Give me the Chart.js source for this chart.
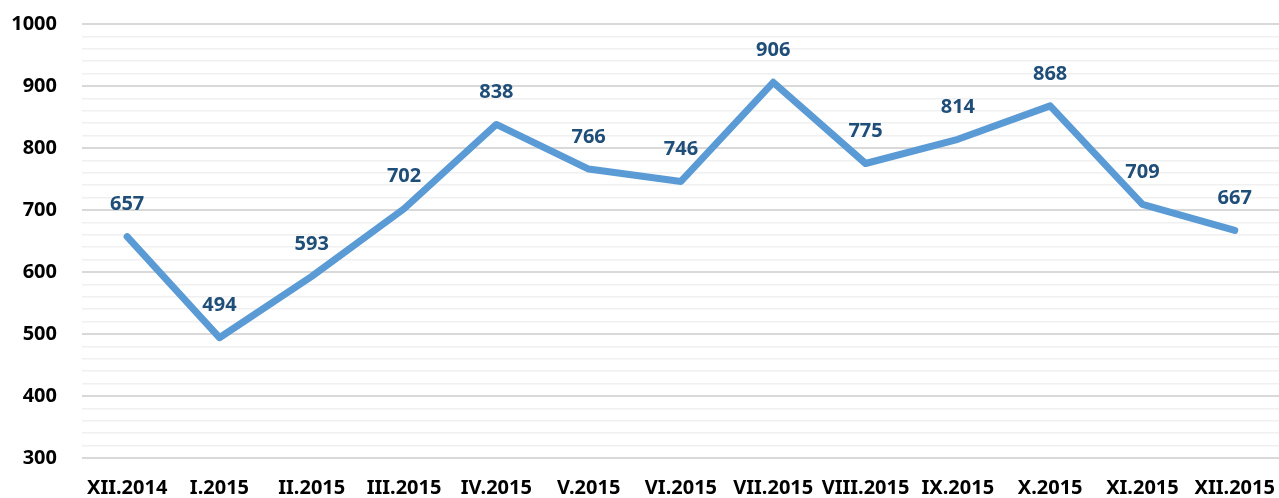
<!DOCTYPE html>
<html><head><meta charset="utf-8">
<script src="https://cdn.jsdelivr.net/npm/chart.js@4/dist/chart.umd.min.js"></script>
<style>
html,body{margin:0;padding:0;background:#fff;overflow:hidden;}
#wrap{position:relative;width:1285px;height:498px;}
</style></head>
<body>
<div id="wrap"><canvas id="c"></canvas></div>
<script>
const categories = ["XII.2014","I.2015","II.2015","III.2015","IV.2015","V.2015","VI.2015","VII.2015","VIII.2015","IX.2015","X.2015","XI.2015","XII.2015"];
const values = [657,494,593,702,838,766,746,906,775,814,868,709,667];
const yMin = 300, yMax = 1000, yStep = 20, yLabelStep = 100;

const FONT = "'Noto Sans', sans-serif";

const edgePlugin = {
  id: 'edgeClean',
  beforeDatasetsDraw(chart) {
    const a = chart.chartArea, ctx = chart.ctx;
    ctx.save();
    ctx.fillStyle = '#ffffff';
    ctx.fillRect(a.left - 5, a.top - 2, 6, a.bottom - a.top + 4);
    ctx.restore();
  }
};

const labelPlugin = {
  id: 'valueLabels',
  afterDatasetsDraw(chart) {
    const ctx = chart.ctx;
    const meta = chart.getDatasetMeta(0);
    ctx.save();
    ctx.font = "bold 20px " + FONT;
    ctx.fillStyle = "#1f4e79";
    ctx.textAlign = "center";
    ctx.textBaseline = "middle";
    meta.data.forEach((pt, i) => {
      ctx.fillText(String(values[i]), pt.x, pt.y - 32);
    });
    ctx.restore();
  }
};

new Chart(document.getElementById('c'), {
  type: 'line',
  data: {
    labels: categories,
    datasets: [{
      data: values,
      borderColor: '#5b9bd5',
      borderWidth: 7,
      borderCapStyle: 'round',
      borderJoinStyle: 'round',
      pointRadius: 0,
      tension: 0,
      fill: false
    }]
  },
  options: {
    responsive: true,
    maintainAspectRatio: false,
    animation: false,
    layout: { padding: { top: 24, right: 2, left: 0, bottom: 0 } },
    plugins: { legend: { display: false }, tooltip: { enabled: false } },
    scales: {
      x: {
        offset: true,
        grid: { display: false },
        border: { display: false },
        ticks: {
          color: '#000',
          font: { family: FONT, weight: 'bold', size: 20 },
          padding: 10,
          maxRotation: 0,
          autoSkip: false
        },
        afterFit(s) { s.height = 40; }
      },
      y: {
        min: yMin, max: yMax,
        grid: {
          drawTicks: false,
          color: ctx => (ctx.tick && ctx.tick.value % yLabelStep === 0) ? '#d9d9d9' : '#f0f0f0',
          lineWidth: ctx => (ctx.tick && ctx.tick.value % yLabelStep === 0) ? 2 : 1.5
        },
        border: { display: false },
        ticks: {
          stepSize: yStep,
          autoSkip: false,
          color: '#000',
          font: { family: FONT, weight: 'bold', size: 20 },
          padding: 24,
          callback: v => (v % yLabelStep === 0) ? v : ''
        },
        afterFit(s) { s.width = 81; s.paddingTop = 0; s.paddingBottom = 0; }
      }
    }
  },
  plugins: [edgePlugin, labelPlugin]
});
</script>
</body></html>
